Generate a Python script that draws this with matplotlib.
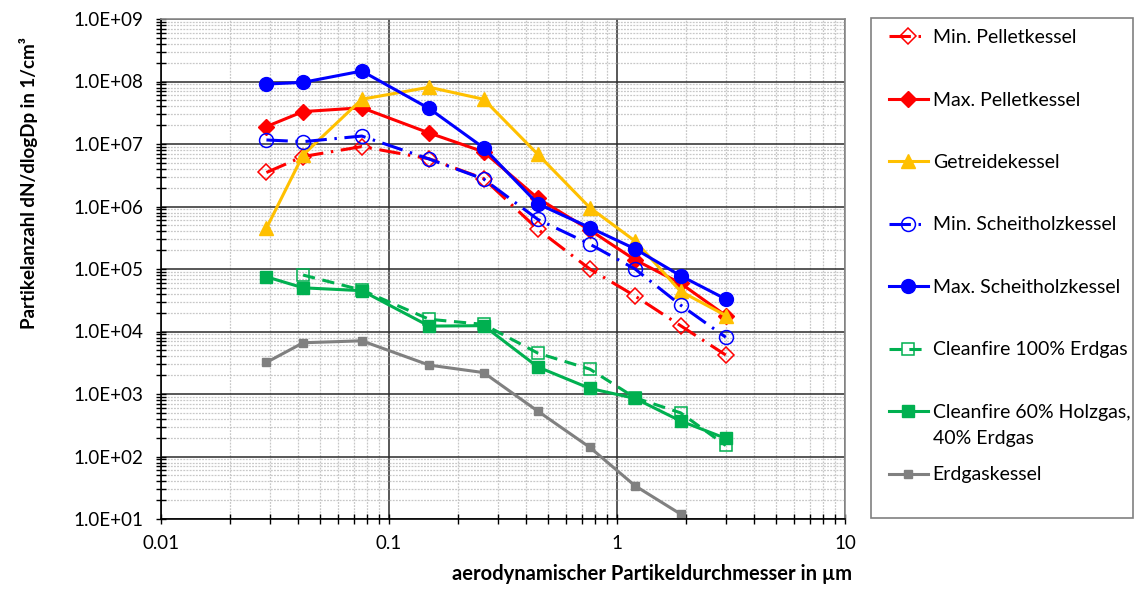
import numpy as np
import matplotlib
matplotlib.use("Agg")
import matplotlib.pyplot as plt
from matplotlib.patches import Rectangle
from matplotlib.ticker import FuncFormatter, LogLocator, NullFormatter

plt.rcParams['font.family'] = ['Lato', 'DejaVu Sans']

# particle diameters (aerodynamic, um)
dp = [0.029, 0.042, 0.076, 0.15, 0.26, 0.45, 0.76, 1.2, 1.9, 3.0]

# dN/dlogDp in 1/cm3
min_pellet = [3.5e6, 6.3e6, 9.1e6, 5.8e6, 2.8e6, 4.3e5, 1.0e5, 3.7e4, 1.24e4, 4.2e3]
max_pellet = [1.9e7, 3.3e7, 3.8e7, 1.5e7, 7.5e6, 1.35e6, 4.2e5, 1.4e5, 5.9e4, 1.8e4]
getreide = [4.5e5, 6.7e6, 5.2e7, 8.1e7, 5.2e7, 6.8e6, 9.6e5, 2.8e5, 4.4e4, 1.8e4]
min_scheit = [1.16e7, 1.09e7, 1.34e7, 5.75e6, 2.75e6, 6.2e5, 2.5e5, 1.0e5, 2.65e4, 8.1e3]
max_scheit = [9.1e7, 9.7e7, 1.47e8, 3.7e7, 8.7e6, 1.1e6, 4.6e5, 2.1e5, 7.8e4, 3.3e4]
cf100 = [np.nan, 8.0e4, 4.6e4, 1.57e4, 1.3e4, 4.5e3, 2.5e3, 8.7e2, 5.0e2, 1.5e2]
cf60 = [7.5e4, 5.0e4, 4.5e4, 1.22e4, 1.24e4, 2.7e3, 1.23e3, 8.5e2, 3.7e2, 1.95e2]
erdgas = [3.2e3, 6.6e3, 7.1e3, 2.9e3, 2.2e3, 5.3e2, 1.4e2, 3.4e1, 1.2e1, np.nan]

labels = ["Min. Pelletkessel", "Max. Pelletkessel", "Getreidekessel",
          "Min. Scheitholzkessel", "Max. Scheitholzkessel",
          "Cleanfire 100% Erdgas", "Cleanfire 60% Holzgas,", "Erdgaskessel"]

red = '#FF0000'
blue = '#0000FF'
yellow = '#FFC000'
green = '#00B050'
grey = '#808080'
dashdot = (0, (7, 2.5, 0.8, 2.5))
dashed = (0, (4, 2.5))

W, H = 1137, 595
fig = plt.figure(figsize=(W/100, H/100), dpi=100)
ax = fig.add_axes([161/W, 1-519/H, (845-161)/W, (519-19)/H])

lw = 2.2
ax.plot(dp, min_pellet, color=red, ls=dashdot, lw=lw, marker='D', ms=8,
        mfc='none', mec=red, mew=1.1, label=labels[0])
ax.plot(dp, max_pellet, color=red, lw=lw, marker='D', ms=8.5,
        mfc=red, mec=red, label=labels[1])
ax.plot(dp, getreide, color=yellow, lw=lw, marker='^', ms=10.5,
        mfc=yellow, mec=yellow, label=labels[2])
ax.plot(dp, min_scheit, color=blue, ls=dashdot, lw=lw, marker='o', ms=10,
        mfc='none', mec=blue, mew=1.1, label=labels[3])
ax.plot(dp, max_scheit, color=blue, lw=lw, marker='o', ms=10,
        mfc=blue, mec=blue, label=labels[4])
ax.plot(dp, cf100, color=green, ls=dashed, lw=lw, marker='s', ms=8,
        mfc='none', mec=green, mew=1.1, label=labels[5])
ax.plot(dp, cf60, color=green, lw=lw, marker='s', ms=8,
        mfc=green, mec=green, label=labels[6])
ax.plot(dp, erdgas, color=grey, lw=lw, marker='s', ms=5.5,
        mfc=grey, mec=grey, label=labels[7])

ax.set_xscale('log')
ax.set_yscale('log')
ax.set_xlim(0.01, 10)
ax.set_ylim(1e1, 1e9)

ax.yaxis.set_major_locator(LogLocator(base=10, numticks=20))
ax.yaxis.set_minor_locator(LogLocator(base=10, subs=np.arange(2, 10), numticks=100))
ax.yaxis.set_minor_formatter(NullFormatter())
ax.xaxis.set_minor_formatter(NullFormatter())
ax.yaxis.set_major_formatter(FuncFormatter(lambda v, p: f"{v:.1E}"))
ax.xaxis.set_major_formatter(FuncFormatter(lambda v, p: f"{v:g}"))

ax.grid(True, which='minor', color='#c8c8c8', lw=0.9, ls=(0, (1.5, 1)))
ax.grid(True, which='major', color='#2a2a2a', lw=1.1)
ax.set_axisbelow(True)

ax.tick_params(which='both', direction='inout', length=7, width=1, labelsize=13.5)
ax.tick_params(axis='y', pad=9)
ax.tick_params(axis='x', pad=8)
for s in ['top', 'right']:
    ax.spines[s].set_color('#8a8a8a')
    ax.spines[s].set_linewidth(1.2)
for s in ['left', 'bottom']:
    ax.spines[s].set_color('black')
    ax.spines[s].set_linewidth(1.2)

fig.text(29/W, 1-183/H, "Partikelanzahl dN/dlogDp in 1/cm³", rotation=90,
         ha='center', va='center', fontsize=13.5, fontweight='bold')
fig.text(652/W, 1-574/H, "aerodynamischer Partikeldurchmesser in µm",
         ha='center', va='center', fontsize=14.5, fontweight='bold')

# legend box
fig.add_artist(Rectangle((871/W, 1-518/H), (1133-871)/W, 500/H,
                         transform=fig.transFigure, fill=False,
                         edgecolor='#808080', lw=1.2))

leg = ax.legend(loc='upper left', bbox_to_anchor=(889/W, 1-29/H),
                bbox_transform=fig.transFigure, borderaxespad=0, borderpad=0,
                frameon=False, fontsize=14, labelspacing=2.34,
                handlelength=2.0, handletextpad=0.25)

# second line of the Cleanfire 60% entry
fig.canvas.draw()
bb = leg.get_texts()[6].get_window_extent()
fig.text(bb.x0/W, (bb.y0 - 26)/H, "40% Erdgas", fontsize=14, ha='left', va='bottom')

fig.savefig('out.png', dpi=100)
